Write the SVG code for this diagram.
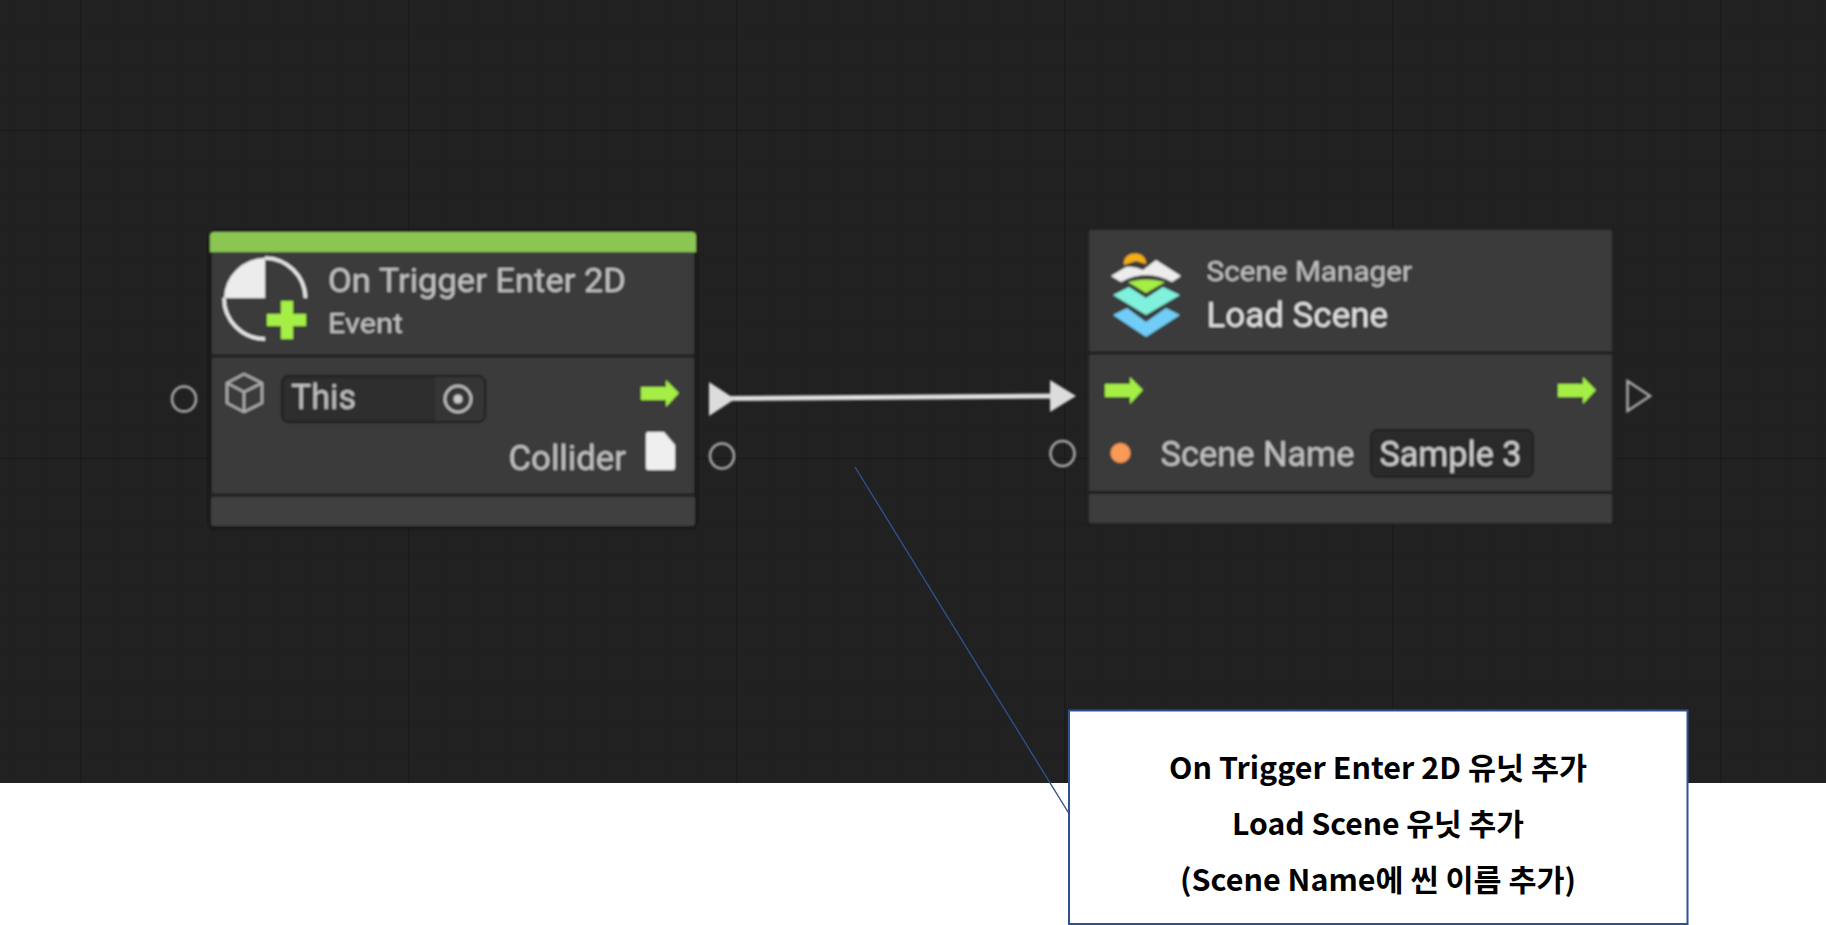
<svg xmlns="http://www.w3.org/2000/svg" xmlns:xlink="http://www.w3.org/1999/xlink" width="1826" height="925" viewBox="0 0 1826 925">
<style>
.ui{font-family:"Roboto","Liberation Sans",sans-serif;fill:#c4c4c4}
.call{font-family:"Noto Sans CJK KR","Noto Sans",sans-serif;font-weight:700;font-size:30px;fill:#000;text-anchor:middle}
.sep{stroke:#1e1e1e;stroke-width:3}
.port{fill:none;stroke:#ababab;stroke-width:2.500}
.frame{fill:#3a3a3a;stroke:#161616;stroke-width:3}
</style>
<defs>
<pattern id="minor" width="32.8" height="32.8" patternUnits="userSpaceOnUse" x="14.4" y="-1.2"><path d="M0 0V32.8M0 0H32.8" fill="none" stroke="#1e1e1e" stroke-width="1.5"/></pattern>
<pattern id="major" width="328" height="328" patternUnits="userSpaceOnUse" x="80" y="130"><path d="M0 0V328M0 0H328" fill="none" stroke="#1a1a1a" stroke-width="2.5"/></pattern>
<filter id="soft" x="-5%" y="-5%" width="110%" height="110%"><feGaussianBlur stdDeviation="0.9"/></filter>
<path id="flow" d="M0 7H25V0L38 13L25 27V20H0Z" fill="#a4ee45"/>
</defs>
<rect width="1826" height="925" fill="#fff"/>
<g id="background">
<rect width="1826" height="783" fill="#212121"/>
<rect width="1826" height="783" fill="url(#minor)"/>
<rect width="1826" height="783" fill="url(#major)"/>
</g>
<g filter="url(#soft)">
<g id="node-trigger">
<rect class="frame" x="210" y="232" width="486" height="295" rx="4"/>
<path d="M210 252V236q0-4 4-4H692q4 0 4 4V252Z" fill="#8bc653"/>
<rect x="211" y="497" width="484" height="29" rx="3" fill="#404040"/>
<path class="sep" d="M210 356H696M210 495H696"/>
<path d="M265 258A41 41 0 0 0 224 298H265Z" fill="#ececec"/>
<path d="M265 258A41 41 0 0 1 305.500 298M224 298A41 41 0 0 0 265 339" fill="none" stroke="#e8e8e8" stroke-width="3.500"/>
<path d="M281 301H293V314H306V326H293V339H281V326H267V314H281Z" fill="#a4ee45"/>
<text class="ui" x="328" y="292" font-size="33" textLength="298" lengthAdjust="spacingAndGlyphs">On Trigger Enter 2D</text>
<text class="ui" x="328" y="333" font-size="27" textLength="75" lengthAdjust="spacingAndGlyphs">Event</text>
<path d="M244 374L262 383V403L244 412L227 403V383ZM227 383L244 392L262 383M244 392V412" fill="none" stroke="#b0b0b0" stroke-width="2.500" stroke-linejoin="round"/>
<rect x="282" y="376" width="203" height="46" rx="7" fill="#2e2e2e" stroke="#202020" stroke-width="2.500"/>
<path d="M435 377H478q6 0 6 6V415q0 6-6 6H435Z" fill="#353535"/>
<text class="ui" x="291" y="409" font-size="35" textLength="65" lengthAdjust="spacingAndGlyphs">This</text>
<circle cx="458" cy="399" r="13" fill="none" stroke="#c4c4c4" stroke-width="2.500"/>
<circle cx="458" cy="399" r="4.500" fill="#c9c9c9"/>
<use xlink:href="#flow" href="#flow" x="641" y="380"/>
<text class="ui" x="508.500" y="470" font-size="35" textLength="117.500" lengthAdjust="spacingAndGlyphs">Collider</text>
<path d="M646 434q0-2 2-2H664L675 445V468q0 2-2 2H648q-2 0-2-2Z" fill="#efefef"/>
</g>
<g id="node-load-scene">
<rect x="1088" y="229" width="525" height="295" rx="3" fill="#3a3a3a" stroke="#1b1b1b" stroke-width="1.500"/>
<rect x="1089" y="494" width="523" height="29" rx="3" fill="#3e3e3e"/>
<path class="sep" d="M1088 353H1613M1088 492.500H1613"/>
<path d="M1124 265C1122 250 1147 250 1146 264L1136 261Z" fill="#f4ae16"/>
<path d="M1111 276L1126 267Q1134 266 1143 270L1156 260L1181 276L1172 282Q1146 268 1121 282Z" fill="#ececec"/>
<path d="M1128 282Q1146 277 1165 282L1146 293Z" fill="#a4ee45"/>
<path d="M1113 295L1129 287L1146 298L1163 287L1180 295L1146 315Z" fill="#7ff1dc"/>
<path d="M1113 315L1127 308L1146 322L1166 308L1180 315L1146 337Z" fill="#70cdf7"/>
<text class="ui" x="1206.500" y="281" font-size="28" textLength="205.500" lengthAdjust="spacingAndGlyphs">Scene Manager</text>
<text class="ui" style="fill:#e4e4e4" x="1206.500" y="327" font-size="35" textLength="181.500" lengthAdjust="spacingAndGlyphs">Load Scene</text>
<use xlink:href="#flow" href="#flow" x="1105" y="377"/>
<use xlink:href="#flow" href="#flow" x="1558" y="377"/>
<circle cx="1120.500" cy="453" r="10" fill="#f99a57"/>
<text class="ui" x="1160.500" y="466" font-size="35" textLength="194" lengthAdjust="spacingAndGlyphs">Scene Name</text>
<rect x="1371" y="430" width="162" height="47" rx="7" fill="#292929" stroke="#202020" stroke-width="2"/>
<text class="ui" style="fill:#d2d2d2" x="1379.500" y="466" font-size="35" textLength="142" lengthAdjust="spacingAndGlyphs">Sample 3</text>
</g>
<g id="ports">
<ellipse class="port" cx="184" cy="399" rx="12" ry="12.500"/>
<ellipse class="port" cx="722" cy="456" rx="12" ry="12.500"/>
<ellipse class="port" cx="1062.500" cy="453.500" rx="12" ry="12.500"/>
<path class="port" d="M1627.500 381L1650 396L1627.500 411Z"/>
</g>
<g id="connectors">
<path d="M720 398.500L1060 396" fill="none" stroke="#dedede" stroke-width="5"/>
<path d="M709 382L735 399L709 416Z" fill="#dcdcdc"/>
<path d="M1050 380L1076 396L1050 412Z" fill="#dcdcdc"/>
</g>
</g>
<g id="callout">
<path d="M855 467L1070.500 816" fill="none" stroke="#2f528f" stroke-width="1.400"/>
<rect x="1069" y="710.500" width="618.500" height="213.500" fill="#fff" stroke="#2f528f" stroke-width="2"/>
<text class="call" x="1378" y="779" textLength="418" lengthAdjust="spacingAndGlyphs">On Trigger Enter 2D 유닛 추가</text>
<text class="call" x="1378" y="835" textLength="292" lengthAdjust="spacingAndGlyphs">Load Scene 유닛 추가</text>
<text class="call" x="1378" y="891" textLength="396" lengthAdjust="spacingAndGlyphs">(Scene Name에 씬 이름 추가)</text>
</g>
</svg>
